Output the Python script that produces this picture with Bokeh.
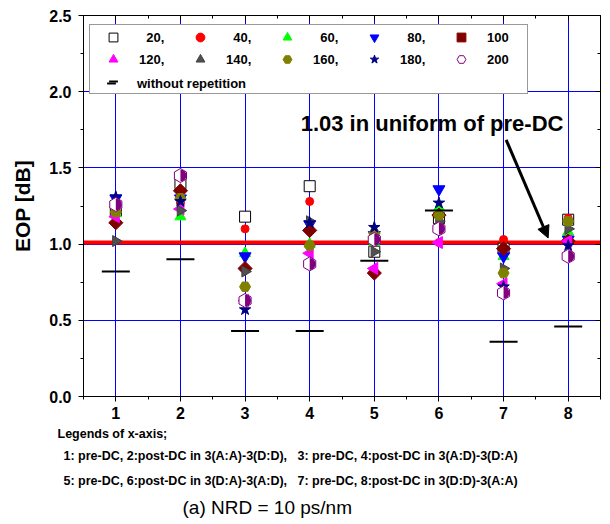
import numpy as np
from bokeh.plotting import figure
from bokeh.models import (Range1d, SingleIntervalTicker, LinearAxis, Span, Label, Title,
                          Arrow, NormalHead, Legend, LegendItem, CustomJSTickFormatter,
                          PrintfTickFormatter)
from bokeh.embed import file_html
from bokeh.resources import INLINE

# ---------------- data ----------------
x_pos = [1, 2, 3, 4, 5, 6, 7, 8]
eop_20 = [1.22, 1.40, 1.18, 1.38, 0.95, 1.17, 0.97, 1.16]
eop_40 = [1.22, 1.27, 1.10, 1.28, 1.01, 1.01, 1.03, 1.17]
eop_60 = [1.20, 1.18, 0.94, 1.00, 1.01, 1.24, 0.92, 1.08]
eop_80 = [1.30, 1.30, 0.92, 1.13, 1.06, 1.36, 0.92, 1.03]
eop_100 = [1.14, 1.35, 0.84, 1.09, 0.81, 1.19, 0.97, 1.02]
eop_120 = [1.18, 1.23, 0.63, 0.94, 0.84, 1.01, 0.74, 1.02]
eop_140 = [1.02, 1.22, 0.82, 1.15, 0.95, 1.15, 0.84, 1.10]
eop_160 = [1.21, 1.30, 0.72, 0.99, 1.07, 1.19, 0.81, 1.15]
eop_180 = [1.31, 1.28, 0.57, 1.14, 1.11, 1.27, 0.72, 0.99]
eop_200 = [1.26, 1.45, 0.63, 0.87, 1.03, 1.10, 0.68, 0.92]
eop_without = [0.82, 0.90, 0.43, 0.43, 0.89, 1.22, 0.36, 0.46]
legend_labels = ["\u200720,", "\u200740,", "\u200760,", "\u200780,", "100",
                 "120,", "140,", "160,", "180,", "200"]
without_label = "without repetition"
uniform_level = 1.01
annotation_text = "1.03 in uniform of pre-DC"
xaxis_legend_lines = [
    "Legends of x-axis;",
    "1: pre-DC, 2:post-DC in 3(A:A)-3(D:D),\u00a0\u00a0\u00a03: pre-DC, 4:post-DC in 3(A:D)-3(D:A)",
    "5: pre-DC, 6:post-DC in 3(D:A)-3(A:D),\u00a0\u00a0\u00a07: pre-DC, 8:post-DC in 3(D:D)-3(A:A)",
]
caption = "(a) NRD = 10 ps/nm"

FONT = "Liberation Sans"

p = figure(width=610, height=524, x_range=Range1d(0.5, 8.5), y_range=Range1d(0, 2.5),
           output_backend="svg", toolbar_location=None,
           min_border_left=83, min_border_right=10, min_border_top=15, min_border_bottom=128)
p.outline_line_color = "black"
p.background_fill_color = "white"
p.border_fill_color = "white"

xt = SingleIntervalTicker(interval=1, num_minor_ticks=2)
yt = SingleIntervalTicker(interval=0.5, num_minor_ticks=2)
p.xaxis.ticker = xt
p.yaxis.ticker = yt
p.xgrid.ticker = xt
p.ygrid.ticker = yt
p.yaxis.formatter = PrintfTickFormatter(format="%.1f")
for g in (p.xgrid, p.ygrid):
    g.grid_line_color = "#0000ff"
    g.grid_line_width = 1

for ax in (p.xaxis[0], p.yaxis[0]):
    ax.axis_line_color = "black"
    ax.major_tick_line_color = "black"
    ax.minor_tick_line_color = "black"
    ax.major_tick_in = 0
    ax.major_tick_out = 5
    ax.minor_tick_in = 0
    ax.minor_tick_out = 3
    ax.major_label_text_font = FONT
    ax.major_label_text_font_style = "bold"
    ax.major_label_text_font_size = "16px"
    ax.major_label_text_color = "black"
p.yaxis.major_label_standoff = 7
p.xaxis.major_label_standoff = 5
p.yaxis.axis_label = "EOP [dB]"
p.yaxis.axis_label_text_font = FONT
p.yaxis.axis_label_text_font_style = "bold"
p.yaxis.axis_label_text_font_size = "21px"
p.yaxis.axis_label_text_color = "black"
p.yaxis.axis_label_standoff = 12

blank = CustomJSTickFormatter(code="return ''")
top_ax = LinearAxis(ticker=xt, formatter=blank, major_tick_in=5, major_tick_out=0,
                    minor_tick_in=3, minor_tick_out=0, major_label_standoff=0)
right_ax = LinearAxis(ticker=yt, formatter=blank, major_tick_in=5, major_tick_out=0,
                      minor_tick_in=3, minor_tick_out=0, major_label_standoff=0)
p.add_layout(top_ax, "above")
p.add_layout(right_ax, "right")

# red reference line
p.add_layout(Span(location=uniform_level, dimension="width", line_color="#ff0000",
                  line_width=4, level="underlay"))

specs = [
    (eop_20, "square", 11, "white", "black", 0),
    (eop_40, "circle", 8, "#ff0000", "#ff0000", 0),
    (eop_60, "triangle", 11, "#00ff00", "#00ff00", 0),
    (eop_80, "inverted_triangle", 12, "#0000ff", "#0000ff", 0),
    (eop_100, "square", 10, "#800000", "#800000", np.pi / 4),
    (eop_120, "triangle", 12, "#ff00ff", "#ff00ff", np.pi / 2),
    (eop_140, "triangle", 11, "#505050", "#404040", -np.pi / 2),
    (eop_160, "hex", 11, "#808000", "#808000", 0),
    (eop_180, "star", 12, "#000080", "#000080", 0),
    (eop_200, "hex", 14, "white", "#800080", np.pi / 2),
]
items = []
for (vals, mk, sz, fc, lc, ang), lab in zip(specs, legend_labels):
    r = p.scatter(x_pos, vals, marker=mk, size=sz, fill_color=fc, line_color=lc,
                  line_width=1, angle=ang)
    if lab == "200":
        p.wedge(x=x_pos, y=vals, radius=6, radius_units="screen", start_angle=-np.pi / 2,
                end_angle=np.pi / 2, fill_color="#800080", line_color=None)
    items.append(LegendItem(label=lab, renderers=[r]))

r_wo = p.scatter(x_pos, eop_without, marker="dash", size=28, line_color="black", line_width=2)
items.append(LegendItem(label="", renderers=[r_wo]))

common = dict(glyph_width=44, glyph_height=22, label_standoff=4, label_height=22,
              spacing=0, padding=1, margin=0, label_text_font=FONT,
              label_text_font_style="bold", label_text_font_size="13px",
              label_text_baseline="middle", label_text_color="black")
legend = Legend(items=items, orientation="horizontal", ncols=5, location=(6, 302),
                label_width=39, border_line_color="#333333", border_line_width=1.5,
                background_fill_color="white", background_fill_alpha=1, **common)
p.add_layout(legend, "center")
# third legend row: its wide label sits in an overlaid, frameless legend
legend2 = Legend(items=[LegendItem(label=without_label, renderers=[r_wo])], location=(6, 302),
                 label_width=20, border_line_color=None, background_fill_color=None,
                 background_fill_alpha=0, **common)
p.add_layout(legend2, "center")

# annotation text + arrow
p.add_layout(Label(x=3.86, y=1.79, text=annotation_text, text_font=FONT, text_color="black",
                   text_font_style="bold", text_font_size="22px", text_baseline="middle"))
p.add_layout(Arrow(x_start=7.04, y_start=1.684, x_end=7.69, y_end=1.04, line_width=3,
                   line_color="black",
                   end=NormalHead(size=12, fill_color="black", line_color="black")))

# texts below the plot
offs = [-26, -20, -20]
stand = [8, 2, 17]
valign = ["middle", "bottom", "bottom"]
for t, off, sd, va in zip(xaxis_legend_lines, offs, stand, valign):
    p.add_layout(Title(text=t, align="left", offset=off, standoff=sd, vertical_align=va,
                       text_font=FONT, text_font_style="bold",
                       text_font_size="12.5px", text_color="black"), "below")
p.add_layout(Title(text=caption, align="left", offset=99, standoff=0, vertical_align="top",
                   text_font=FONT, text_font_style="normal", text_font_size="19px",
                   text_color="black"), "below")

open("out.html", "w").write(file_html(p, INLINE))
